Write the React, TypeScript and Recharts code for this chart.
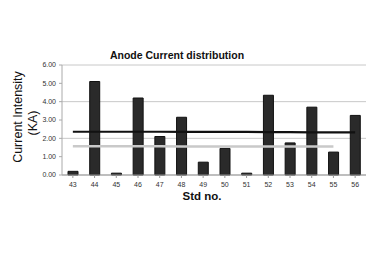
import { Bar, Line, XAxis, YAxis, CartesianGrid, ComposedChart } from 'recharts';

const stdNos = ['43', '44', '45', '46', '47', '48', '49', '50', '51', '52', '53', '54', '55', '56'];
const current = [0.2, 5.1, 0.1, 4.2, 2.1, 3.15, 0.7, 1.45, 0.1, 4.35, 1.75, 3.7, 1.25, 3.25];
const meanLine = [2.36, 2.36, 2.36, 2.36, 2.36, 2.35, 2.35, 2.35, 2.35, 2.34, 2.34, 2.33, 2.33, 2.33];
const lowerLine = [1.57, 1.57, 1.57, 1.57, 1.57, 1.56, 1.56, 1.56, 1.56, 1.55, 1.55, 1.55, 1.55, null];
const yTicks = [0, 1, 2, 3, 4, 5, 6];

const data = stdNos.map((s, i) => ({
  std: s,
  current: current[i],
  mean: meanLine[i],
  lower: lowerLine[i],
}));

const font = 'Liberation Sans, Arial, sans-serif';

export default function App() {
  return (
    <div style={{ position: 'absolute', left: 0, top: 0, width: 375, height: 277, background: '#fff', fontFamily: font }}>
      <div style={{ position: 'absolute', left: 177, top: 55, transform: 'translate(-50%, -50%)', fontSize: 10.5, fontWeight: 'bold', color: '#111', whiteSpace: 'nowrap' }}>
        Anode Current distribution
      </div>
      <div style={{ position: 'absolute', left: 18, top: 117, transform: 'translate(-50%, -50%) rotate(-90deg)', fontSize: 12.5, color: '#111', whiteSpace: 'nowrap' }}>
        Current Intensity
      </div>
      <div style={{ position: 'absolute', left: 33, top: 123, transform: 'translate(-50%, -50%) rotate(-90deg)', fontSize: 12.5, color: '#111', whiteSpace: 'nowrap' }}>
        (KA)
      </div>
      <div style={{ position: 'absolute', left: 202, top: 196, transform: 'translate(-50%, -50%)', fontSize: 11.5, fontWeight: 'bold', color: '#111', whiteSpace: 'nowrap' }}>
        Std no.
      </div>
      <ComposedChart
        width={375}
        height={277}
        data={data}
        margin={{ top: 65, right: 9, bottom: 82, left: 0 }}
      >
        <CartesianGrid vertical={false} stroke="#c8c8c8" strokeWidth={1} />
        <XAxis
          dataKey="std"
          stroke="#999"
          tick={{ fontSize: 7, fill: '#333', fontFamily: font }}
          tickLine={{ stroke: '#999' }}
          tickSize={3}
          tickMargin={4}
          height={20}
          interval={0}
        />
        <YAxis
          domain={[0, 6]}
          ticks={yTicks}
          tickFormatter={(v: number) => v.toFixed(2)}
          width={62}
          stroke="#aaa"
          tick={{ fontSize: 7, fill: '#333', fontFamily: font }}
          tickSize={3}
          tickMargin={3}
        />
        <Bar dataKey="current" fill="#2a2a2a" stroke="#111" strokeWidth={1} barSize={10} isAnimationActive={false} />
        <Line dataKey="mean" stroke="#111" strokeWidth={2.2} dot={false} isAnimationActive={false} />
        <Line dataKey="lower" stroke="#c9c9c9" strokeWidth={2.5} dot={false} isAnimationActive={false} />
      </ComposedChart>
    </div>
  );
}
